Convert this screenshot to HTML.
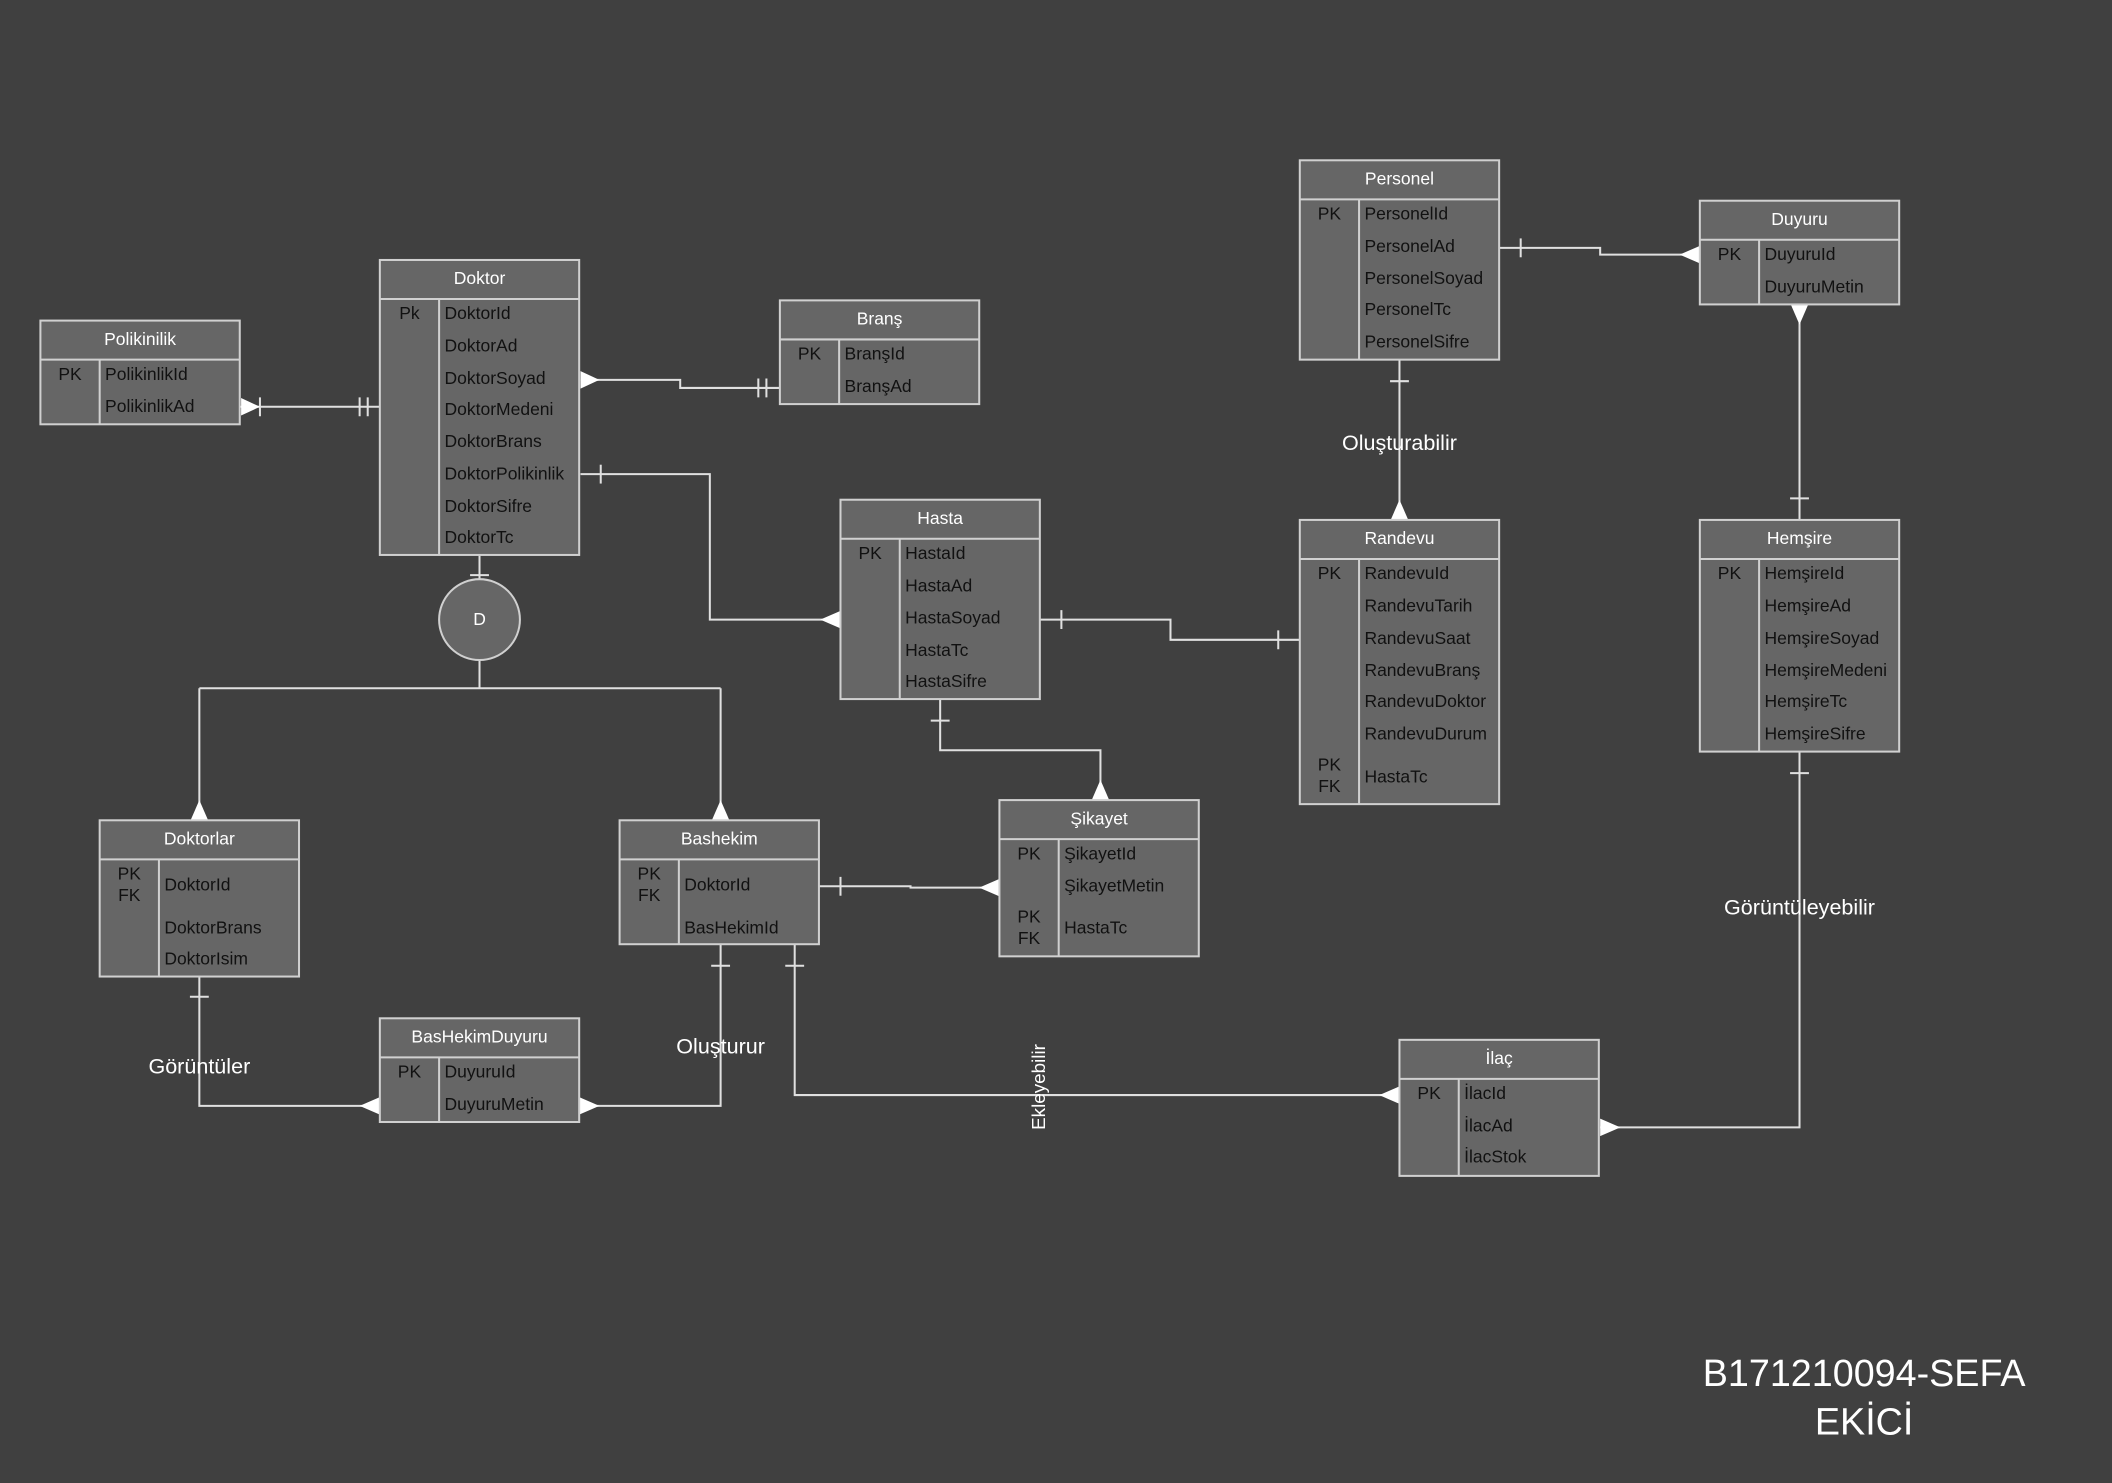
<!DOCTYPE html>
<html><head><meta charset="utf-8"><style>
html,body{margin:0;padding:0;background:#404040;}
svg{display:block}
text{font-family:"Liberation Sans","DejaVu Sans",sans-serif;}
.t rect{fill:#666;stroke:#d0d0d0;stroke-width:1.5}
.t line{stroke:#d0d0d0;stroke-width:1.5}
.h{fill:#fff;font-size:13px;text-anchor:middle}
.b{fill:#111;font-size:13px}
.k{fill:#111;font-size:13px;text-anchor:middle}
.c{stroke:#e0e0e0;stroke-width:1.5;fill:none}
.tr{fill:#fff;stroke:none}
.lb{fill:#fff;font-size:16px;text-anchor:middle}
</style></head><body>
<svg width="2112" height="1483" viewBox="0 0 1568 1101" xmlns="http://www.w3.org/2000/svg">
<rect width="1568" height="1101" fill="#404040"/>

<!-- connectors -->
<g class="c">
<path d="M178 302H282"/><path d="M193 295v14M267 295v14M273 295v14"/>
<path d="M431 282H505V288H579"/><path d="M563 281v14M569 281v14"/>
<path d="M431 352H527V460H624"/><path d="M446 345v14"/>
<path d="M356 412V430"/><path d="M349 427h14"/>
<path d="M356 490V511M148 511H535M148 511V609M535 511V609"/>
<path d="M772 460H869V475H965"/><path d="M788 453v14M949 468v14"/>
<path d="M1039 267V386"/><path d="M1032 283h14"/>
<path d="M1113 184H1188V189H1262"/><path d="M1129 177v14"/>
<path d="M1336 226V386"/><path d="M1329 370h14"/>
<path d="M1336 558V837H1188"/><path d="M1329 574h14"/>
<path d="M698 519V557H817V594"/><path d="M691 535h14"/>
<path d="M608 658H676V659H742"/><path d="M624 651v14"/>
<path d="M148 725V821H282"/><path d="M141 740h14"/>
<path d="M535 701V821H430"/><path d="M528 717h14"/>
<path d="M590 701V813H1039"/><path d="M583 717h14"/>
</g>
<g class="tr">
<polygon points="179,295.5 179,308.5 193,302"/>
<polygon points="431,275.5 431,288.5 445,282"/>
<polygon points="624,453.5 624,466.5 609,460"/>
<polygon points="141.5,609 154.5,609 148,594"/>
<polygon points="528.5,609 541.5,609 535,594"/>
<polygon points="1032.5,386 1045.5,386 1039,371"/>
<polygon points="1262,182.5 1262,195.5 1247,189"/>
<polygon points="1329.5,226 1342.5,226 1336,241"/>
<polygon points="1188,830.5 1188,843.5 1203,837"/>
<polygon points="810.5,594 823.5,594 817,579"/>
<polygon points="742,652.5 742,665.5 727,659"/>
<polygon points="282,814.5 282,827.5 267,821"/>
<polygon points="430,814.5 430,827.5 445,821"/>
<polygon points="1039,806.5 1039,819.5 1024,813"/>
</g>

<circle cx="356" cy="460" r="30" fill="#666" stroke="#d0d0d0" stroke-width="1.5"/>
<text x="356" y="464" class="h">D</text>

<!-- Polikinilik -->
<g class="t"><rect x="30" y="238" width="148" height="77"/><line x1="30" y1="267" x2="178" y2="267"/><line x1="74" y1="267" x2="74" y2="315"/></g>
<text x="104" y="256" class="h">Polikinilik</text>
<text x="52" y="282" class="k">PK</text>
<text x="78" y="282" class="b">PolikinlikId</text><text x="78" y="306" class="b">PolikinlikAd</text>

<!-- Doktor -->
<g class="t"><rect x="282" y="193" width="148" height="219"/><line x1="282" y1="222" x2="430" y2="222"/><line x1="326" y1="222" x2="326" y2="412"/></g>
<text x="356" y="211" class="h">Doktor</text>
<text x="304" y="237" class="k">Pk</text>
<text x="330" y="237" class="b">DoktorId</text><text x="330" y="261" class="b">DoktorAd</text><text x="330" y="285" class="b">DoktorSoyad</text><text x="330" y="308" class="b">DoktorMedeni</text><text x="330" y="332" class="b">DoktorBrans</text><text x="330" y="356" class="b">DoktorPolikinlik</text><text x="330" y="380" class="b">DoktorSifre</text><text x="330" y="403" class="b">DoktorTc</text>

<!-- Brans -->
<g class="t"><rect x="579" y="223" width="148" height="77"/><line x1="579" y1="252" x2="727" y2="252"/><line x1="623" y1="252" x2="623" y2="300"/></g>
<text x="653" y="241" class="h">Branş</text>
<text x="601" y="267" class="k">PK</text>
<text x="627" y="267" class="b">BranşId</text><text x="627" y="291" class="b">BranşAd</text>

<!-- Personel -->
<g class="t"><rect x="965" y="119" width="148" height="148"/><line x1="965" y1="148" x2="1113" y2="148"/><line x1="1009" y1="148" x2="1009" y2="267"/></g>
<text x="1039" y="137" class="h">Personel</text>
<text x="987" y="163" class="k">PK</text>
<text x="1013" y="163" class="b">PersonelId</text><text x="1013" y="187" class="b">PersonelAd</text><text x="1013" y="211" class="b">PersonelSoyad</text><text x="1013" y="234" class="b">PersonelTc</text><text x="1013" y="258" class="b">PersonelSifre</text>

<!-- Duyuru -->
<g class="t"><rect x="1262" y="149" width="148" height="77"/><line x1="1262" y1="178" x2="1410" y2="178"/><line x1="1306" y1="178" x2="1306" y2="226"/></g>
<text x="1336" y="167" class="h">Duyuru</text>
<text x="1284" y="193" class="k">PK</text>
<text x="1310" y="193" class="b">DuyuruId</text><text x="1310" y="217" class="b">DuyuruMetin</text>

<!-- Hasta -->
<g class="t"><rect x="624" y="371" width="148" height="148"/><line x1="624" y1="400" x2="772" y2="400"/><line x1="668" y1="400" x2="668" y2="519"/></g>
<text x="698" y="389" class="h">Hasta</text>
<text x="646" y="415" class="k">PK</text>
<text x="672" y="415" class="b">HastaId</text><text x="672" y="439" class="b">HastaAd</text><text x="672" y="463" class="b">HastaSoyad</text><text x="672" y="487" class="b">HastaTc</text><text x="672" y="510" class="b">HastaSifre</text>

<!-- Randevu -->
<g class="t"><rect x="965" y="386" width="148" height="211"/><line x1="965" y1="415" x2="1113" y2="415"/><line x1="1009" y1="415" x2="1009" y2="597"/></g>
<text x="1039" y="404" class="h">Randevu</text>
<text x="987" y="430" class="k">PK</text>
<text x="1013" y="430" class="b">RandevuId</text><text x="1013" y="454" class="b">RandevuTarih</text><text x="1013" y="478" class="b">RandevuSaat</text><text x="1013" y="502" class="b">RandevuBranş</text><text x="1013" y="525" class="b">RandevuDoktor</text><text x="1013" y="549" class="b">RandevuDurum</text>
<text x="987" y="572" class="k">PK</text><text x="987" y="588" class="k">FK</text><text x="1013" y="581" class="b">HastaTc</text>

<!-- Hemsire -->
<g class="t"><rect x="1262" y="386" width="148" height="172"/><line x1="1262" y1="415" x2="1410" y2="415"/><line x1="1306" y1="415" x2="1306" y2="558"/></g>
<text x="1336" y="404" class="h">Hemşire</text>
<text x="1284" y="430" class="k">PK</text>
<text x="1310" y="430" class="b">HemşireId</text><text x="1310" y="454" class="b">HemşireAd</text><text x="1310" y="478" class="b">HemşireSoyad</text><text x="1310" y="502" class="b">HemşireMedeni</text><text x="1310" y="525" class="b">HemşireTc</text><text x="1310" y="549" class="b">HemşireSifre</text>

<!-- Doktorlar -->
<g class="t"><rect x="74" y="609" width="148" height="116"/><line x1="74" y1="638" x2="222" y2="638"/><line x1="118" y1="638" x2="118" y2="725"/></g>
<text x="148" y="627" class="h">Doktorlar</text>
<text x="96" y="653" class="k">PK</text><text x="96" y="669" class="k">FK</text>
<text x="122" y="661" class="b">DoktorId</text><text x="122" y="693" class="b">DoktorBrans</text><text x="122" y="716" class="b">DoktorIsim</text>

<!-- Bashekim -->
<g class="t"><rect x="460" y="609" width="148" height="92"/><line x1="460" y1="638" x2="608" y2="638"/><line x1="504" y1="638" x2="504" y2="701"/></g>
<text x="534" y="627" class="h">Bashekim</text>
<text x="482" y="653" class="k">PK</text><text x="482" y="669" class="k">FK</text>
<text x="508" y="661" class="b">DoktorId</text><text x="508" y="693" class="b">BasHekimId</text>

<!-- Sikayet -->
<g class="t"><rect x="742" y="594" width="148" height="116"/><line x1="742" y1="623" x2="890" y2="623"/><line x1="786" y1="623" x2="786" y2="710"/></g>
<text x="816" y="612" class="h">Şikayet</text>
<text x="764" y="638" class="k">PK</text>
<text x="790" y="638" class="b">ŞikayetId</text><text x="790" y="662" class="b">ŞikayetMetin</text>
<text x="764" y="685" class="k">PK</text><text x="764" y="701" class="k">FK</text><text x="790" y="693" class="b">HastaTc</text>

<!-- BasHekimDuyuru -->
<g class="t"><rect x="282" y="756" width="148" height="77"/><line x1="282" y1="785" x2="430" y2="785"/><line x1="326" y1="785" x2="326" y2="833"/></g>
<text x="356" y="774" class="h">BasHekimDuyuru</text>
<text x="304" y="800" class="k">PK</text>
<text x="330" y="800" class="b">DuyuruId</text><text x="330" y="824" class="b">DuyuruMetin</text>

<!-- Ilac -->
<g class="t"><rect x="1039" y="772" width="148" height="101"/><line x1="1039" y1="801" x2="1187" y2="801"/><line x1="1083" y1="801" x2="1083" y2="873"/></g>
<text x="1113" y="790" class="h">İlaç</text>
<text x="1061" y="816" class="k">PK</text>
<text x="1087" y="816" class="b">İlacId</text><text x="1087" y="840" class="b">İlacAd</text><text x="1087" y="863" class="b">İlacStok</text>

<!-- labels -->
<text x="1039" y="334" class="lb">Oluşturabilir</text>
<text x="1336" y="679" class="lb">Görüntüleyebilir</text>
<text x="148" y="797" class="lb">Görüntüler</text>
<text x="535" y="782" class="lb">Oluşturur</text>
<text x="0" y="0" class="lb" font-size="14" style="font-size:14px" transform="translate(776,807) rotate(-90)">Ekleyebilir</text>
<text x="1384" y="1029" class="lb" style="font-size:28px">B171210094-SEFA</text>
<text x="1384" y="1065" class="lb" style="font-size:28px">EKİCİ</text>
</svg>
</body></html>
